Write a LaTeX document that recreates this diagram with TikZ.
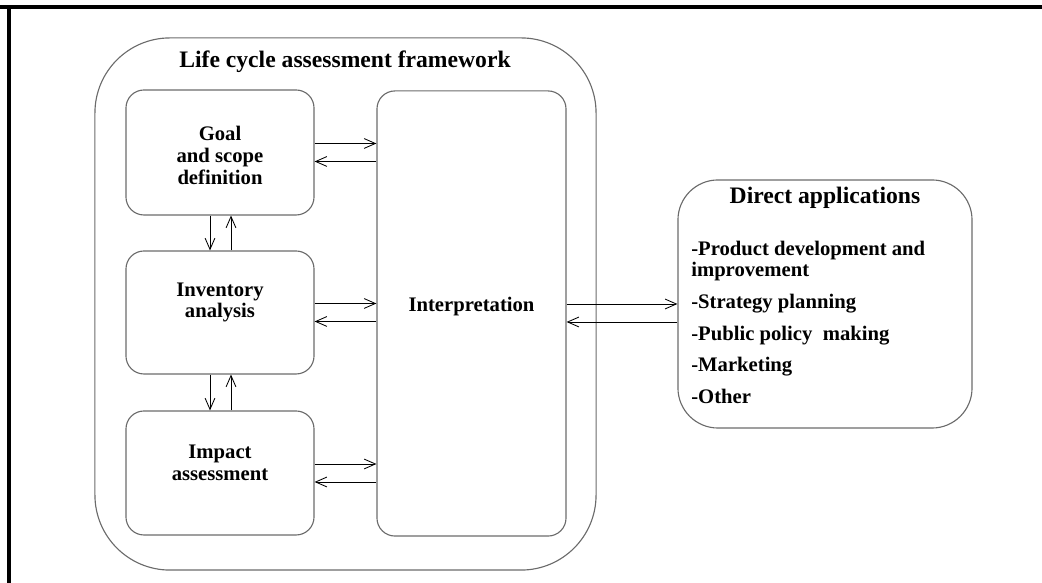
\documentclass[tikz,border=0pt]{standalone}
\usepackage{fontspec}
\setmainfont{Liberation Serif}
\usetikzlibrary{arrows.meta,calc}
\definecolor{boxgray}{rgb}{0.42,0.42,0.42}

\tikzset{
  box/.style={draw=boxgray, line width=0.8pt, rounded corners=0.45cm, minimum width=4.7cm},
  head/.style={font=\fontsize{16.8}{15}\selectfont\bfseries, align=center},
  lbl/.style={font=\fontsize{14.7}{15.5}\selectfont\bfseries, align=center},
  link/.style={->, line width=0.6pt},
}

\begin{document}
\begin{tikzpicture}[x=0.025cm,y=0.025cm, >={Straight Barb[length=8pt,width=7pt]}]
	\useasboundingbox (0,0) rectangle (1042,583);
	% frame of the scan
	\draw[line width=2.8pt] (0,576) -- (1042,576);
	\draw[line width=2.8pt] (9,0) -- (9,577.4);

	% framework
	\node[draw=boxgray, line width=0.8pt, rounded corners=1.875cm, minimum width=12.525cm, minimum height=13.3cm] (frame) at (345.5,279) {};
	\node[head] (title) at (345,521) {Life cycle assessment framework};

	\node[box, minimum height=3.125cm] (goal) at (220,430.5) {};
	\node[box, minimum height=3.075cm] (inv) at (220,270.5) {};
	\node[box, minimum height=3.1cm] (imp) at (220,110) {};
	\node[box, minimum width=4.725cm, minimum height=11.125cm] (interp) at (471.5,269.5) {};

	\node[lbl] (goaltxt) at ($(goal.center)+(0,-3)$) {Goal\\and scope\\definition};
	\node[lbl] (invtxt) at ($(inv.center)+(0,10)$) {Inventory\\analysis};
	\node[lbl] (imptxt) at ($(imp.center)+(0,10.5)$) {Impact\\assessment};
	\node[lbl] (interptxt) at ($(interp.center)+(0,6.5)$) {Interpretation};

	% applications
	\node[draw=boxgray, line width=0.8pt, rounded corners=1cm, minimum width=7.35cm, minimum height=6.2cm] (direct) at (825,279) {};
	\node[head] (directtxt) at (825,385) {Direct applications};
	\node[lbl, align=left, anchor=west, inner sep=0pt, font=\fontsize{14.7}{15}\selectfont\bfseries] (apps) at (691,260.5) {-Product development and\\improvement\\[7.5pt]-Strategy planning\\[7.5pt]-Public policy\ \ making\\[7.5pt]-Marketing\\[7.5pt]-Other};

	% two way links, left to right
	\foreach \src/\dst/\dy in {goal/interp/0, inv/interp/0, imp/interp/0, interp/direct/0.5} {
		\path ($(\src.east)+(0,9+\dy)$) coordinate (out);
		\path ($(\src.east)+(0,-9+\dy)$) coordinate (back);
		\draw[link] (out) -- (out -| \dst.west);
		\draw[link] (back -| \dst.west) -- (back);
	}

	% two way links, top to bottom
	\foreach \src/\dst in {goal/inv, inv/imp} {
		\path ($(\src.south)+(-10,0)$) coordinate (down);
		\path ($(\src.south)+(11,0)$) coordinate (up);
		\draw[link] (down) -- (down |- \dst.north);
		\draw[link] (up |- \dst.north) -- (up);
	}
\end{tikzpicture}
\end{document}
